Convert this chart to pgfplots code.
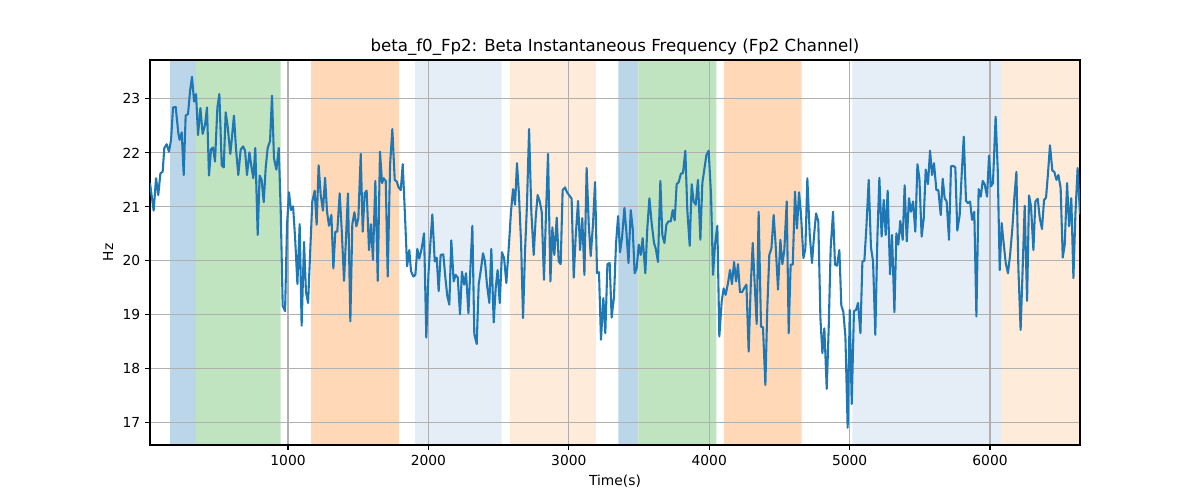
\documentclass[border=0pt]{standalone}
\usepackage{fontspec}
\setmainfont{DejaVu Sans}
\usepackage{pgfplots}
\usepackage{pgfplotstable}
\pgfplotsset{compat=1.18}
\definecolor{tabblue}{RGB}{31,119,180}
\definecolor{spanblue}{RGB}{188,214,233}
\definecolor{spangreen}{RGB}{192,227,192}
\definecolor{spanorange}{RGB}{255,217,183}
\definecolor{spanlblue}{RGB}{229,238,247}
\definecolor{spanlorange}{RGB}{255,235,217}
\definecolor{gridgray}{RGB}{176,176,176}
\pgfplotstableread{
x y
17 21.44
43 20.93
60 21.53
76 21.22
91 21.62
107 21.65
119 22.09
136 22.16
152 22.02
167 22.24
181 22.84
200 22.85
219 22.36
228 22.24
243 22.38
257 21.59
271 22.69
288 22.72
302 23.14
316 23.41
331 22.95
345 23.09
359 22.33
376 22.83
392 22.35
409 22.52
423 22.84
437 21.58
452 22.07
466 22.10
480 21.84
497 22.84
511 23.09
528 21.77
542 21.73
556 22.75
570 22.49
589 21.98
599 22.24
615 22.69
630 22.06
646 21.59
663 22.06
680 22.12
694 22.04
708 21.59
725 22.01
739 21.75
753 21.53
767 22.09
784 20.48
798 21.58
812 21.50
827 21.09
841 21.72
855 22.09
872 22.22
886 23.06
900 21.90
917 21.69
934 22.09
948 20.94
962 19.17
979 19.07
993 20.67
1007 21.27
1021 20.94
1036 21.01
1050 20.45
1067 19.57
1083 20.68
1097 18.80
1114 20.35
1128 19.42
1143 19.22
1157 20.11
1173 21.10
1190 21.30
1204 20.67
1218 21.77
1233 21.22
1249 20.93
1264 21.54
1278 20.91
1292 20.65
1309 20.85
1323 19.86
1337 20.54
1351 20.54
1368 21.25
1382 20.60
1399 19.63
1413 20.42
1427 21.25
1444 18.88
1458 20.68
1473 20.90
1487 20.64
1501 20.79
1518 21.98
1532 20.54
1546 21.25
1560 21.30
1577 20.20
1591 20.68
1605 20.02
1622 21.48
1639 19.63
1655 22.02
1670 21.44
1681 21.53
1696 21.48
1710 19.71
1727 21.78
1743 22.44
1760 21.50
1774 21.47
1788 21.36
1803 21.31
1817 21.79
1833 20.85
1848 19.90
1864 20.20
1876 19.81
1893 19.71
1907 19.74
1921 20.22
1935 20.04
1952 20.23
1969 20.51
1985 18.58
2000 19.74
2014 20.33
2028 20.86
2045 19.99
2059 20.06
2073 19.44
2087 20.11
2106 20.12
2121 19.68
2135 19.34
2149 19.19
2163 20.38
2180 19.62
2194 19.74
2209 19.69
2225 19.01
2239 19.80
2254 19.56
2268 19.77
2285 19.03
2299 19.86
2313 20.65
2327 18.64
2344 18.46
2358 19.56
2375 19.86
2389 20.14
2403 19.99
2417 19.56
2434 19.22
2448 20.22
2465 18.86
2479 19.49
2493 19.83
2508 19.22
2524 20.16
2539 20.05
2555 19.59
2574 20.31
2588 20.91
2603 21.33
2617 21.04
2631 21.81
2645 21.22
2660 20.33
2674 18.94
2688 20.17
2702 21.04
2717 22.44
2733 20.91
2750 20.11
2764 20.79
2778 21.22
2793 21.10
2807 20.91
2823 19.65
2838 20.91
2852 21.98
2869 19.62
2883 20.62
2897 20.11
2914 20.80
2928 19.99
2942 19.94
2956 21.31
2973 21.36
2987 21.27
3004 21.21
3020 21.15
3035 19.69
3049 20.45
3066 21.11
3080 20.20
3096 20.79
3111 19.74
3127 21.72
3142 20.67
3156 20.09
3172 20.67
3187 21.46
3201 19.77
3215 19.79
3229 18.54
3246 19.31
3260 18.66
3275 19.94
3291 19.96
3305 18.95
3322 19.34
3336 20.31
3351 20.83
3365 20.16
3379 20.43
3396 20.98
3410 20.54
3425 19.96
3441 20.94
3455 20.60
3469 19.77
3483 19.86
3498 20.30
3512 20.11
3526 20.42
3545 19.77
3559 20.60
3574 21.16
3590 20.70
3607 20.33
3619 20.23
3635 19.98
3652 21.48
3666 20.48
3681 20.33
3695 20.67
3709 20.73
3726 20.73
3740 20.94
3754 20.75
3768 21.42
3783 21.46
3799 21.62
3813 21.62
3830 22.04
3844 20.94
3861 20.28
3875 21.42
3889 21.10
3904 21.04
3920 21.50
3937 20.39
3951 21.44
3965 21.69
3980 21.96
3996 22.04
4013 21.22
4027 19.74
4041 20.30
4058 20.65
4072 18.60
4089 19.25
4103 19.49
4117 19.37
4134 19.59
4148 19.83
4162 19.57
4177 19.98
4191 19.62
4205 19.94
4219 19.42
4234 19.42
4248 19.49
4265 19.56
4281 18.32
4295 19.49
4310 20.33
4324 19.56
4338 18.83
4352 20.91
4369 18.78
4383 18.77
4400 17.70
4414 19.15
4428 20.11
4443 20.23
4459 20.85
4473 20.30
4490 19.47
4507 20.39
4521 19.94
4535 20.20
4552 21.10
4566 18.66
4580 19.93
4595 19.93
4611 21.28
4625 20.60
4640 21.27
4654 20.85
4671 20.05
4685 20.23
4699 21.53
4716 20.48
4732 19.96
4747 20.48
4761 20.88
4777 20.73
4792 18.94
4806 18.29
4820 18.75
4837 17.63
4851 18.75
4865 20.23
4882 20.91
4896 19.93
4910 19.91
4927 20.20
4941 19.17
4955 19.06
4970 18.60
4986 16.91
5001 19.09
5015 17.35
5031 19.07
5046 19.09
5060 19.22
5077 18.66
5091 19.99
5105 20.00
5119 20.60
5136 21.50
5152 20.25
5167 19.99
5183 18.63
5198 20.45
5212 21.54
5228 20.45
5243 21.13
5257 20.48
5271 21.30
5288 19.75
5302 20.48
5319 19.05
5333 20.51
5347 20.30
5361 20.74
5378 20.39
5392 21.40
5407 20.36
5423 21.16
5437 20.91
5452 21.10
5468 20.54
5483 21.79
5497 21.53
5513 20.45
5528 20.79
5542 21.69
5558 21.42
5573 22.04
5587 21.59
5601 21.81
5618 21.31
5632 21.31
5649 20.85
5663 21.52
5677 21.16
5691 21.10
5708 20.39
5722 21.75
5737 21.76
5753 21.73
5767 20.56
5784 20.85
5798 21.59
5813 22.30
5829 21.11
5843 21.07
5858 21.10
5872 20.76
5888 20.91
5903 18.97
5919 21.33
5934 21.19
5948 21.48
5962 21.42
5979 21.19
5993 21.95
6007 21.38
6021 21.44
6040 22.67
6055 21.69
6069 19.83
6083 20.70
6097 20.33
6112 19.96
6128 19.77
6143 20.11
6159 20.60
6173 21.16
6188 21.65
6202 19.86
6218 18.72
6233 19.90
6247 21.02
6264 19.26
6278 21.21
6292 21.01
6309 20.20
6323 21.10
6340 21.15
6354 20.80
6370 20.59
6385 21.13
6399 21.17
6413 21.62
6427 22.14
6444 21.67
6458 21.65
6473 21.50
6487 21.59
6503 21.35
6518 20.06
6532 20.30
6549 21.44
6563 20.64
6579 21.16
6594 19.68
6608 20.85
6624 21.72
6641 20.86
}\freqdata
\begin{document}
\begin{tikzpicture}
\begin{axis}[
  set layers,
  at={(0,0)}, anchor=south west,
  scale only axis,
  width=669.6bp, height=277.2bp,
  xmin=17, xmax=6641, ymin=16.59, ymax=23.72,
  xtick={1000,2000,3000,4000,5000,6000},
  ytick={17,18,19,20,21,22,23},
  grid=major,
  grid style={color=gridgray, line width=0.8bp},
  axis line style={line width=0.8bp, black},
  tick style={line width=0.8bp, black},
  tick align=outside, tick pos=left,
  major tick length=3.5bp,
  /pgf/number format/assume math mode=true,
  /pgf/number format/1000 sep={},
  ticklabel style={font=\fontsize{10}{12}\selectfont},
  label style={font=\fontsize{10}{12}\selectfont},
  title style={font=\fontsize{12}{14}\selectfont, yshift=-6bp},
  title={beta\_f0\_Fp2: Beta Instantaneous Frequency (Fp2 Channel)},
  xlabel={Time(s)}, ylabel={Hz},
]
\addplot[fill=spanblue, draw=none, on layer=axis background, forget plot] coordinates {(160,16.59) (345,16.59) (345,23.72) (160,23.72) (160,16.59)};
\addplot[fill=spangreen, draw=none, on layer=axis background, forget plot] coordinates {(345,16.59) (948,16.59) (948,23.72) (345,23.72) (345,16.59)};
\addplot[fill=spanorange, draw=none, on layer=axis background, forget plot] coordinates {(1164,16.59) (1791,16.59) (1791,23.72) (1164,23.72) (1164,16.59)};
\addplot[fill=spanlblue, draw=none, on layer=axis background, forget plot] coordinates {(1905,16.59) (2522,16.59) (2522,23.72) (1905,23.72) (1905,16.59)};
\addplot[fill=spanlorange, draw=none, on layer=axis background, forget plot] coordinates {(2581,16.59) (3192,16.59) (3192,23.72) (2581,23.72) (2581,16.59)};
\addplot[fill=spanblue, draw=none, on layer=axis background, forget plot] coordinates {(3353,16.59) (3495,16.59) (3495,23.72) (3353,23.72) (3353,16.59)};
\addplot[fill=spangreen, draw=none, on layer=axis background, forget plot] coordinates {(3495,16.59) (4051,16.59) (4051,23.72) (3495,23.72) (3495,16.59)};
\addplot[fill=spanorange, draw=none, on layer=axis background, forget plot] coordinates {(4105,16.59) (4659,16.59) (4659,23.72) (4105,23.72) (4105,16.59)};
\addplot[fill=spanlblue, draw=none, on layer=axis background, forget plot] coordinates {(5019,16.59) (6078,16.59) (6078,23.72) (5019,23.72) (5019,16.59)};
\addplot[fill=spanlorange, draw=none, on layer=axis background, forget plot] coordinates {(6078,16.59) (6641,16.59) (6641,23.72) (6078,23.72) (6078,16.59)};
\addplot[color=tabblue, line width=1.5bp, mark=none, line join=round] table[x=x, y=y] {\freqdata};
\end{axis}
\path (-108bp,-39.6bp) rectangle (756bp,320.4bp);
\end{tikzpicture}
\end{document}
